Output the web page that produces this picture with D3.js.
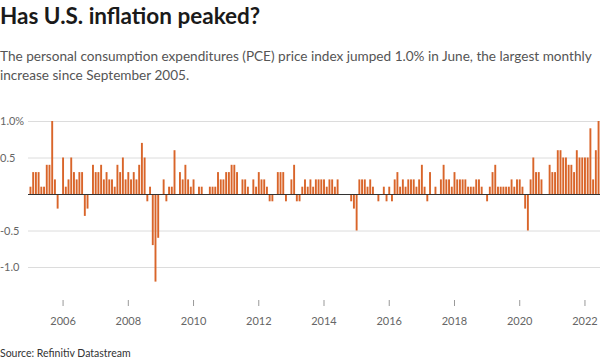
<!DOCTYPE html>
<html>
<head>
<meta charset="utf-8">
<script src="https://cdn.jsdelivr.net/npm/d3@7"></script>
<style>
  body { margin: 0; background: #fff; }
  svg text { font-family: Lato, "Open Sans", sans-serif; }
</style>
</head>
<body>
<svg id="chart" width="600" height="363"></svg>
<script>
// monthly % change in PCE price index, Jan 2005 .. Jun 2022
let firstYear = 2005;
let pce2005 = [0.1, 0.3, 0.3, 0.3, 0.1, 0.1, 0.4, 0.4, 1.0, 0.2, -0.2, 0.0];
let pce2006 = [0.5, 0.1, 0.2, 0.5, 0.3, 0.2, 0.3, 0.3, -0.3, -0.2, 0.0, 0.4];
let pce2007 = [0.3, 0.3, 0.4, 0.2, 0.3, 0.2, 0.2, 0.1, 0.4, 0.3, 0.5, 0.2];
let pce2008 = [0.3, 0.2, 0.3, 0.2, 0.4, 0.7, 0.5, -0.1, 0.1, -0.7, -1.2, -0.6];
let pce2009 = [0.0, 0.2, -0.1, 0.1, 0.1, 0.6, 0.0, 0.3, 0.2, 0.4, 0.2, 0.1];
let pce2010 = [0.2, 0.0, 0.1, 0.1, 0.0, 0.0, 0.1, 0.1, 0.1, 0.3, 0.2, 0.2];
let pce2011 = [0.3, 0.3, 0.4, 0.4, 0.3, 0.0, 0.2, 0.2, 0.1, 0.0, 0.2, 0.1];
let pce2012 = [0.3, 0.2, 0.2, 0.1, -0.1, -0.1, 0.0, 0.3, 0.3, 0.3, -0.1, 0.0];
let pce2013 = [0.2, 0.4, -0.1, -0.1, 0.1, 0.2, 0.1, 0.2, 0.1, 0.2, 0.2, 0.2];
let pce2014 = [0.2, 0.1, 0.2, 0.2, 0.1, 0.2, 0.0, 0.0, 0.0, 0.0, -0.1, -0.2];
let pce2015 = [-0.5, 0.2, 0.2, 0.2, 0.1, 0.2, 0.1, 0.0, -0.1, 0.0, 0.1, -0.1];
let pce2016 = [0.1, -0.1, 0.2, 0.3, 0.1, 0.2, 0.1, 0.2, 0.2, 0.2, 0.1, 0.2];
let pce2017 = [0.4, 0.1, -0.1, 0.3, 0.0, 0.1, 0.0, 0.2, 0.4, 0.2, 0.2, 0.1];
let pce2018 = [0.3, 0.2, 0.2, 0.2, 0.2, 0.1, 0.1, 0.1, 0.2, 0.2, 0.1, 0.0];
let pce2019 = [-0.1, 0.1, 0.3, 0.4, 0.1, 0.1, 0.1, 0.1, 0.1, 0.2, 0.1, 0.2];
let pce2020 = [0.2, 0.1, -0.2, -0.5, 0.2, 0.5, 0.3, 0.3, 0.2, 0.0, 0.0, 0.4];
let pce2021 = [0.3, 0.3, 0.6, 0.6, 0.5, 0.5, 0.4, 0.4, 0.3, 0.6, 0.5, 0.5];
let pce2022 = [0.5, 0.5, 0.9, 0.2, 0.6, 1.0];

let yTicks = [1.0, 0.5, -0.5, -1.0];
let yTickLabels = ["1.0%", "0.5", "-0.5", "-1.0"];
let xTickYears = [2006, 2008, 2010, 2012, 2014, 2016, 2018, 2020, 2022];

let title = "Has U.S. inflation peaked?";
let subtitle = ["The personal consumption expenditures (PCE) price index jumped 1.0% in June, the largest monthly",
                "increase since September 2005."];
let source = "Source: Refinitiv Datastream";

// flatten the yearly arrays into one monthly series
let values = [].concat(pce2005, pce2006, pce2007, pce2008, pce2009, pce2010, pce2011, pce2012,
                       pce2013, pce2014, pce2015, pce2016, pce2017, pce2018, pce2019, pce2020,
                       pce2021, pce2022);
let data = values.map((v, i) => ({ idx: i, year: firstYear + Math.floor(i / 12), month: i % 12, value: v }));

let svg = d3.select("#chart");

let x = d3.scaleBand().domain(data.map(d => d.idx)).range([29.5, 599.5]).paddingInner(0.3);
let y = d3.scaleLinear().domain([-1, 1]).range([267, 121]);

// titles
svg.append("text").attr("x", 0).attr("y", 24)
    .style("font-size", "22.5px").style("font-weight", 700).attr("fill", "#1a1a1a")
    .text(title);
svg.selectAll("text.sub").data(subtitle).enter().append("text").attr("class", "sub")
    .attr("x", 0).attr("y", (d, i) => 61 + i * 19)
    .style("font-size", "13.6px").attr("fill", "#555")
    .text(d => d);

// gridlines + y labels
let yAxis = svg.append("g");
yAxis.selectAll("line").data(yTicks).enter().append("line")
    .attr("x1", 28).attr("x2", 600)
    .attr("y1", d => y(d) + 0.5).attr("y2", d => y(d) + 0.5)
    .attr("stroke", "#dcdcdc").attr("stroke-width", 1);
yAxis.selectAll("text").data(yTicks).enter().append("text")
    .attr("x", 0).attr("y", d => y(d) + 4)
    .style("font-size", "11px").attr("fill", "#666")
    .text((d, i) => yTickLabels[i]);

// bars
svg.append("g").selectAll("rect").data(data).enter().append("rect")
    .attr("x", d => x(d.idx))
    .attr("width", x.bandwidth())
    .attr("y", d => y(Math.max(0, d.value)))
    .attr("height", d => Math.abs(y(d.value) - y(0)))
    .attr("fill", "#d9652a");

// zero line
svg.append("line").attr("x1", 28).attr("x2", 600)
    .attr("y1", y(0) + 0.5).attr("y2", y(0) + 0.5)
    .attr("stroke", "#333").attr("stroke-width", 1);

// x axis: ticks at January of even years
let xTicks = xTickYears.map(yr => (yr - firstYear) * 12);
let xAxis = svg.append("g");
xAxis.selectAll("line").data(xTicks).enter().append("line")
    .attr("x1", d => x(d) + x.bandwidth() / 2).attr("x2", d => x(d) + x.bandwidth() / 2)
    .attr("y1", 300).attr("y2", 306)
    .attr("stroke", "#999");
xAxis.selectAll("text").data(xTicks).enter().append("text")
    .attr("x", d => x(d) + x.bandwidth() / 2).attr("y", 325)
    .attr("text-anchor", "middle")
    .style("font-size", "11px").attr("fill", "#666")
    .text((d, i) => xTickYears[i]);

svg.append("text").attr("x", 0).attr("y", 357)
    .style("font-size", "10.5px").attr("fill", "#333")
    .text(source);
</script>
</body>
</html>
